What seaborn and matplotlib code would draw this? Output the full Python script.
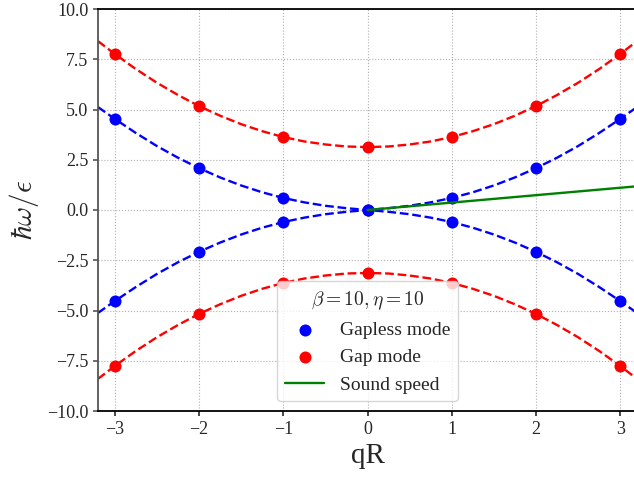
import numpy as np
import pandas as pd
import matplotlib
matplotlib.use("Agg")
import matplotlib.pyplot as plt
import seaborn as sns

# (curves are symmetric in qR and in sign)
curve_q = [0.0, 0.25, 0.5, 0.75, 1.0, 1.25, 1.5, 1.75, 2.0, 2.25, 2.5, 2.75, 3.0, 3.2]
gapless_curve = [0.0, 0.09, 0.21, 0.38, 0.60, 0.88, 1.22, 1.62, 2.08, 2.60, 3.18, 3.83, 4.53, 5.12]
gap_curve = [3.13, 3.16, 3.26, 3.41, 3.63, 3.92, 4.27, 4.69, 5.17, 5.72, 6.33, 7.01, 7.76, 8.40]

point_q = [0, 1, 2, 3]
gapless_points = [0.0, 0.60, 2.08, 4.53]
gap_points = [3.13, 3.63, 5.17, 7.76]

sound_q = [0.0, 3.2]
sound_w = [0.0, 1.18]

legend_title = r"$\beta=10, \eta=10$"
xlabel = "qR"
ylabel = r"$\hbar\omega/\epsilon$"

sns.set_style("ticks")
plt.rcParams["font.family"] = ["Liberation Serif", "DejaVu Serif"]
plt.rcParams["mathtext.fontset"] = "cm"

def mirror(q, w):
    q = np.asarray(q, float); w = np.asarray(w, float)
    qq = np.concatenate([-q[::-1], q[1:]])
    ww = np.concatenate([w[::-1], w[1:]])
    return qq, ww

fig = plt.figure(figsize=(6.34, 4.78), dpi=100)
ax = fig.add_axes([98/634, (478-411)/478, (637-98)/634, (411-9)/478])

cq, cg = mirror(curve_q, gapless_curve)
_, cG = mirror(curve_q, gap_curve)
pq, pg = mirror(point_q, gapless_points)
_, pG = mirror(point_q, gap_points)

for sgn in (1, -1):
    sns.lineplot(x=cq, y=sgn * cg, ax=ax, color="blue", linestyle="--", lw=1.7, zorder=2)
for sgn in (1, -1):
    sns.lineplot(x=cq, y=sgn * cG, ax=ax, color="red", linestyle="--", lw=1.7, zorder=2)

for i, sgn in enumerate((1, -1)):
    sns.scatterplot(x=pq, y=sgn * pg, ax=ax, color="blue", s=75, linewidth=0, zorder=3,
                    label="Gapless mode" if i == 0 else None)
for i, sgn in enumerate((1, -1)):
    sns.scatterplot(x=pq, y=sgn * pG, ax=ax, color="red", s=75, linewidth=0, zorder=3,
                    label="Gap mode" if i == 0 else None)
sns.lineplot(x=sound_q, y=sound_w, ax=ax, color="green", lw=1.7, zorder=3, label="Sound speed")

ax.set_xlim(-3.2, 3.2)
ax.set_ylim(-10, 10)
ax.set_xticks([-3, -2, -1, 0, 1, 2, 3])
ax.set_xticklabels(["\u22123", "\u22122", "\u22121", "0", "1", "2", "3"])
ax.set_yticks(np.arange(-10, 10.1, 2.5))
ax.grid(True, linestyle=":", color="#b0b0b0", linewidth=0.8)
ax.tick_params(labelsize=13, width=1.2)
ax.set_xlabel(xlabel, fontsize=21)
ax.set_ylabel(ylabel, fontsize=21)

leg = ax.legend(loc="lower center", title=legend_title, fontsize=14, title_fontsize=14)
for name, sp in ax.spines.items():
    sp.set_color("black")
    sp.set_linewidth(1.3)
ax.spines["left"].set_color("#555555")
ax.tick_params(axis="y", color="#555555")

fig.savefig("out.png", dpi=100)
